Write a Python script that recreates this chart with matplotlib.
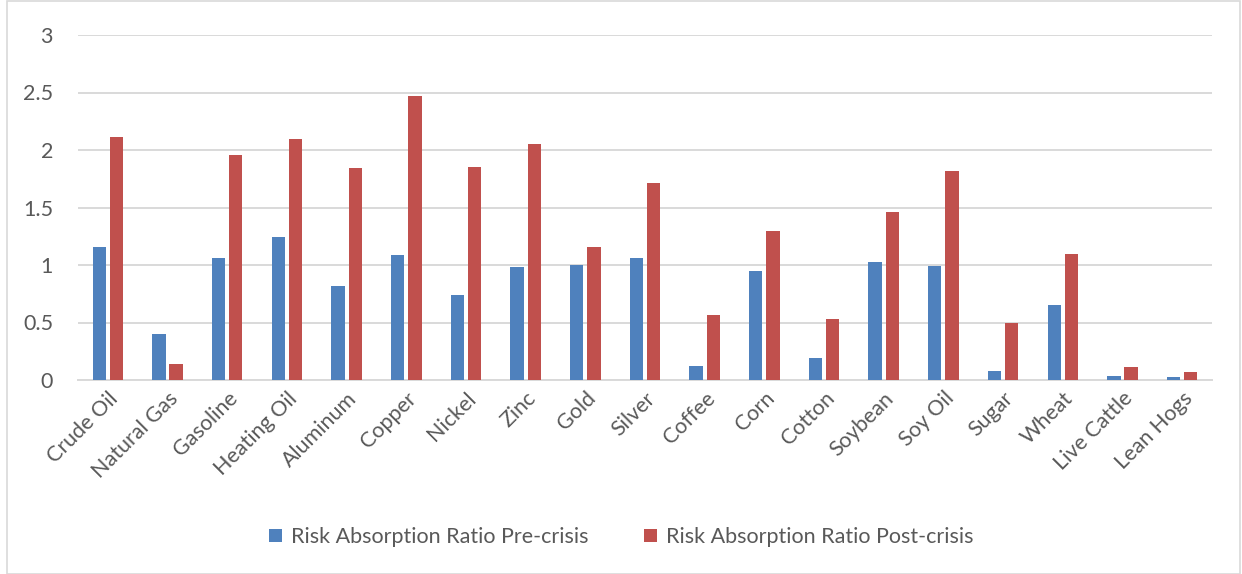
import numpy as np
import matplotlib
matplotlib.use("Agg")
import matplotlib.pyplot as plt
from matplotlib.patches import Rectangle

plt.rcParams["font.family"] = ["Lato", "DejaVu Sans"]

commodities = ["Crude Oil", "Natural Gas", "Gasoline", "Heating Oil", "Aluminum",
               "Copper", "Nickel", "Zinc", "Gold", "Silver", "Coffee", "Corn",
               "Cotton", "Soybean", "Soy Oil", "Sugar", "Wheat", "Live Cattle",
               "Lean Hogs"]
pre_crisis = [1.16, 0.40, 1.06, 1.24, 0.82, 1.09, 0.74, 0.98, 1.00, 1.06, 0.12,
              0.95, 0.19, 1.03, 0.99, 0.075, 0.655, 0.032, 0.029]
post_crisis = [2.11, 0.14, 1.96, 2.10, 1.84, 2.47, 1.85, 2.05, 1.16, 1.71, 0.565,
               1.30, 0.533, 1.46, 1.82, 0.493, 1.096, 0.116, 0.067]

BLUE = "#4f81bd"
RED = "#c0504d"
TXT = "#595959"
GRID = "#d9d9d9"
FS = 15.5

W, H = 1242, 574
fig = plt.figure(figsize=(W / 100, H / 100), dpi=100)
ax = fig.add_axes([78 / W, 1 - 380 / H, (1212 - 78) / W, (380 - 35) / H])

x = np.arange(len(commodities))
bw = 0.223
off = 0.144
ax.bar(x - off, pre_crisis, bw, color=BLUE, label="Risk Absorption Ratio Pre-crisis", zorder=3)
ax.bar(x + off, post_crisis, bw, color=RED, label="Risk Absorption Ratio Post-crisis", zorder=3)

ax.set_xlim(-0.5, len(commodities) - 0.5)
ax.set_ylim(0, 3)
ax.set_yticks([0, 0.5, 1, 1.5, 2, 2.5, 3])
ax.set_yticklabels(["0", "0.5", "1", "1.5", "2", "2.5", "3"])
ax.yaxis.grid(True, color=GRID, lw=1.4, zorder=0)
ax.set_axisbelow(True)
for s in ("top", "right", "left"):
    ax.spines[s].set_visible(False)
ax.spines["bottom"].set_color(GRID)
ax.spines["bottom"].set_linewidth(1.4)
ax.tick_params(axis="y", length=0, pad=18, labelsize=FS, labelcolor=TXT)
ax.tick_params(axis="x", length=0, pad=6, labelsize=FS, labelcolor=TXT)
ax.set_xticks(x)
ax.set_xticklabels(commodities, rotation=45, ha="right", rotation_mode="anchor")

fig.legend(loc="center", bbox_to_anchor=(0.5, 1 - 537 / H), ncol=2, frameon=False,
           fontsize=FS, labelcolor=TXT, handlelength=0.6, handleheight=0.6,
           handletextpad=0.4, columnspacing=2.6)

# outer chart border
fig.patches.append(Rectangle((7 / W, 0.5 / H), (1240 - 7) / W, (H - 1.5) / H,
                             transform=fig.transFigure, fill=False,
                             edgecolor=GRID, lw=1.2))

fig.savefig("out.png", dpi=100)
